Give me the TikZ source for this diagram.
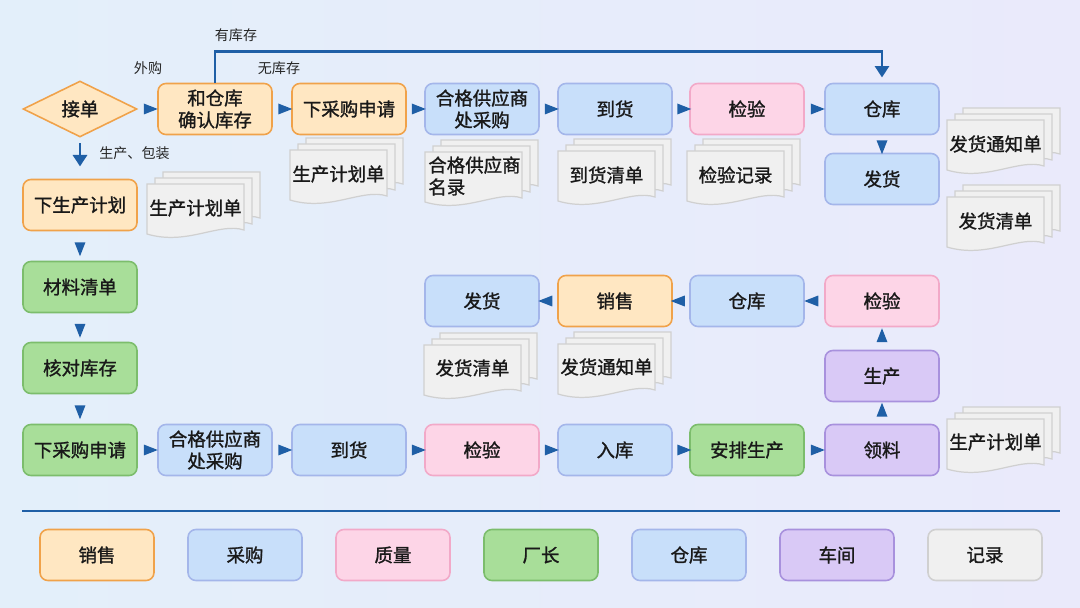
\documentclass[tikz,border=0pt]{standalone}
\usepackage{fontspec}
\setmainfont{Noto Sans CJK SC}[BoldFont={Noto Sans CJK SC}, BoldFeatures={FakeBold=1.3}]
\usetikzlibrary{shapes.geometric,arrows.meta,calc}
\definecolor{orF}{HTML}{FFE7C2}\definecolor{orD}{HTML}{F0A24A}
\definecolor{blF}{HTML}{C8DFFA}\definecolor{blD}{HTML}{A4B6EA}
\definecolor{pkF}{HTML}{FDD5E7}\definecolor{pkD}{HTML}{F2A9C8}
\definecolor{grF}{HTML}{A8DE99}\definecolor{grD}{HTML}{7CBD6C}
\definecolor{puF}{HTML}{D9C9F6}\definecolor{puD}{HTML}{A891DD}
\definecolor{gyF}{HTML}{F0F0F0}\definecolor{gyD}{HTML}{D0D0D0}
\definecolor{arr}{HTML}{1F5FA6}
\definecolor{bgL}{HTML}{E3EFFA}\definecolor{bgR}{HTML}{EAEAFB}
\newcommand\docpages[2]{%
  \foreach \d in {16,8,0}{%
    \begin{scope}[shift={(#1+\d,#2-0.75*\d)}]
      \filldraw[docpg] (0,0) -- (97,0) -- (97,46) .. controls (72,38) and (40,62) .. (0,50) -- cycle;
    \end{scope}}}
\tikzset{
  box/.style={rectangle, rounded corners=4.5pt, minimum width=2.28cm, minimum height=1.02cm,
    inner sep=1pt, line width=0.9pt, align=center, text=black!90,
    font=\fontsize{10.5}{12.5}\selectfont\bfseries},
  orbox/.style={box, fill=orF, draw=orD},
  blbox/.style={box, fill=blF, draw=blD},
  pkbox/.style={box, fill=pkF, draw=pkD},
  grbox/.style={box, fill=grF, draw=grD},
  pubox/.style={box, fill=puF, draw=puD},
  gybox/.style={box, fill=gyF, draw=gyD},
  dia/.style={diamond, aspect=2, minimum width=2.28cm, minimum height=1.12cm, inner sep=0pt,
    fill=orF, draw=orD, line width=0.9pt, text=black!90, font=\fontsize{10.5}{12.5}\selectfont\bfseries},
  docpg/.style={fill=gyF, draw=gyD, line width=0.7pt},
  doctext/.style={inner sep=0pt, text=black!90, font=\fontsize{10.5}{12.5}\selectfont\bfseries},
  lbl/.style={inner sep=0pt, text=black!85, font=\fontsize{8}{10}\selectfont},
  tri/.style={isosceles triangle, isosceles triangle stretches, fill=arr, inner sep=0pt,
    minimum width=0.22cm, minimum height=0.28cm, sloped, allow upside down},
  conn/.style={draw=arr, line width=1.7pt, -{Triangle[length=6.5pt,width=8pt]}},
}
\begin{document}
\begin{tikzpicture}[x=0.02cm, y=-0.02cm]
\useasboundingbox (0,0) rectangle (1080,608);
\shade[left color=bgL, right color=bgR] (0,0) rectangle (1080,608);
% row 1
\node[dia] (jd) at (80,109) {接单};
\node[orbox] (hc) at (215,109) {和仓库\\确认库存};
\node[orbox] (cg1) at (349,109) {下采购申请};
\node[blbox] (gy1) at (482,109) {合格供应商\\处采购};
\node[blbox] (dh1) at (615,109) {到货};
\node[pkbox] (jy1) at (747,109) {检验};
\node[blbox] (ck1) at (882,109) {仓库};
\node[blbox] (fh1) at (882,179) {发货};
\path (jd) -- node[tri]{} (hc);
\path (hc) -- node[tri]{} (cg1);
\path (cg1) -- node[tri]{} (gy1);
\path (gy1) -- node[tri]{} (dh1);
\path (dh1) -- node[tri]{} (jy1);
\path (jy1) -- node[tri]{} (ck1);
\path (ck1) -- node[tri]{} (fh1);
\draw[conn, shorten >=3pt] (hc.north) -- ++(0,-31) -| (ck1.north);
\node[lbl] (l1) at (236,35) {有库存};
\node[lbl] (l2) at (148,68) {外购};
\node[lbl] (l3) at (279,68) {无库存};
% left column
\node[orbox] (xsc) at (80,205) {下生产计划};
\node[grbox] (cl) at (80,287) {材料清单};
\node[grbox] (hd) at (80,368) {核对库存};
\node[grbox] (cg2) at (80,450) {下采购申请};
\draw[conn, shorten <=3pt, shorten >=7pt] (jd.south) -- (xsc.north);
\node[lbl, anchor=west] (l4) at (99,153) {生产、包装};
\path (xsc) -- node[tri]{} (cl);
\path (cl) -- node[tri]{} (hd);
\path (hd) -- node[tri]{} (cg2);
% row 4
\node[blbox] (gy2) at (215,450) {合格供应商\\处采购};
\node[blbox] (dh2) at (349,450) {到货};
\node[pkbox] (jy2) at (482,450) {检验};
\node[blbox] (rk) at (615,450) {入库};
\node[grbox] (ap) at (747,450) {安排生产};
\node[pubox] (ll) at (882,450) {领料};
\node[pubox] (sc) at (882,376) {生产};
\path (cg2) -- node[tri]{} (gy2);
\path (gy2) -- node[tri]{} (dh2);
\path (dh2) -- node[tri]{} (jy2);
\path (jy2) -- node[tri]{} (rk);
\path (rk) -- node[tri]{} (ap);
\path (ap) -- node[tri]{} (ll);
\path (ll) -- node[tri]{} (sc);
% row 3
\node[pkbox] (jy3) at (882,301) {检验};
\node[blbox] (ck3) at (747,301) {仓库};
\node[orbox] (xs3) at (615,301) {销售};
\node[blbox] (fh3) at (482,301) {发货};
\path (sc) -- node[tri]{} (jy3);
\path (jy3) -- node[tri]{} (ck3);
\path (ck3) -- node[tri]{} (xs3);
\path (xs3) -- node[tri]{} (fh3);
% documents
\docpages{290}{150}\node[doctext] (dA) at (338.5,174) {生产计划单};
\docpages{147}{184}\node[doctext] (dB) at (195.5,208) {生产计划单};
\docpages{425}{152}\node[doctext, align=left, anchor=west] (dC) at (428,176) {合格供应商\\名录};
\docpages{558}{151}\node[doctext] (dD) at (606.5,175) {到货清单};
\docpages{687}{151}\node[doctext] (dE) at (735.5,175) {检验记录};
\docpages{947}{120}\node[doctext] (dF) at (995.5,144) {发货通知单};
\docpages{947}{197}\node[doctext] (dG) at (995.5,221) {发货清单};
\docpages{424}{345}\node[doctext] (dH) at (472.5,368) {发货清单};
\docpages{558}{344}\node[doctext] (dI) at (606.5,367) {发货通知单};
\docpages{947}{419}\node[doctext] (dJ) at (995.5,442) {生产计划单};
% legend
\draw[arr, line width=1.7pt] (22,511) -- (1060,511);
\node[orbox] (g1) at (97,555) {销售};
\node[blbox] (g2) at (245,555) {采购};
\node[pkbox] (g3) at (393,555) {质量};
\node[grbox] (g4) at (541,555) {厂长};
\node[blbox] (g5) at (689,555) {仓库};
\node[pubox] (g6) at (837,555) {车间};
\node[gybox] (g7) at (985,555) {记录};
\end{tikzpicture}
\end{document}
